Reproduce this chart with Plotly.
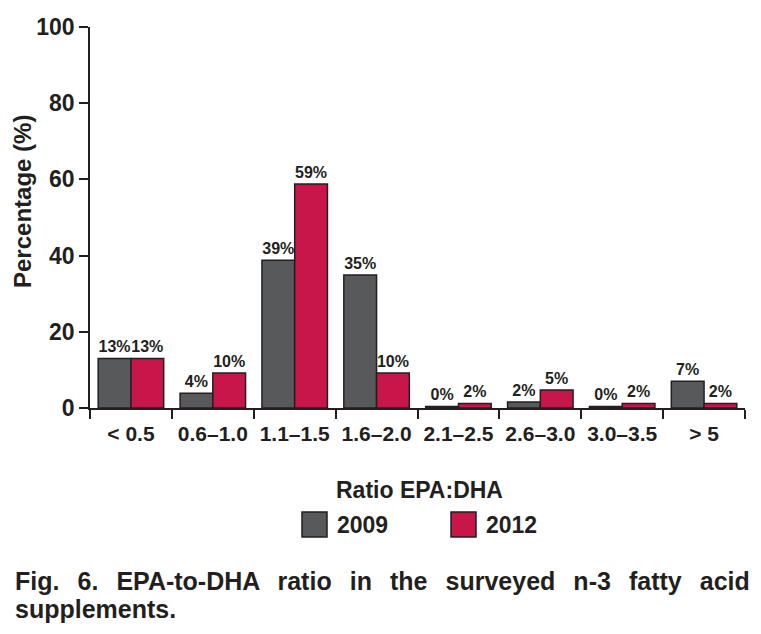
import plotly.graph_objects as go

categories = ["< 0.5", "0.6–1.0", "1.1–1.5", "1.6–2.0", "2.1–2.5", "2.6–3.0", "3.0–3.5", "> 5"]
tick_labels = ["&lt; 0.5", "0.6–1.0", "1.1–1.5", "1.6–2.0", "2.1–2.5", "2.6–3.0", "3.0–3.5", "&gt; 5"]
values_2009 = [13, 3.9, 38.8, 34.9, 0.4, 1.6, 0.4, 7.0]
values_2012 = [13, 9.2, 58.8, 9.2, 1.2, 4.7, 1.2, 1.2]
labels_2009 = ["13%", "4%", "39%", "35%", "0%", "2%", "0%", "7%"]
labels_2012 = ["13%", "10%", "59%", "10%", "2%", "5%", "2%", "2%"]
caption_lines = ["Fig. 6. EPA-to-DHA ratio in the surveyed n-3 fatty acid", "supplements."]

C2009 = "#58595b"
C2012 = "#c8154a"
INK = "#231f20"
FONT = "Liberation Sans, Arial, Helvetica, sans-serif"

# the page body has an 8px margin, so the figure is 8px smaller than the window
W, H = 753, 626
fig = go.Figure()
for name, vals, labs, col in [("2009", values_2009, labels_2009, C2009),
                              ("2012", values_2012, labels_2012, C2012)]:
    fig.add_trace(go.Bar(
        x=categories, y=vals, name=name, text=labs,
        textposition="outside", constraintext="none", cliponaxis=False,
        textfont=dict(family=FONT, size=16, color=INK, weight="bold"),
        marker=dict(color=col, line=dict(color=INK, width=1.5)),
        showlegend=False,
    ))

fig.update_layout(
    width=W, height=H,
    margin=dict(l=82, r=16, t=19, b=226, autoexpand=False),
    paper_bgcolor="white", plot_bgcolor="white",
    barmode="group", bargap=0.2, bargroupgap=0,
    font=dict(family=FONT, color=INK),
)
fig.update_xaxes(
    type="category", tickvals=categories, ticktext=tick_labels, tickangle=0,
    automargin=False, ticklabelstandoff=6,
    tickson="boundaries", ticks="outside", ticklen=9, tickwidth=1.5, tickcolor=INK,
    showline=True, linecolor=INK, linewidth=1.5, showgrid=False,
    tickfont=dict(family=FONT, size=21, color=INK, weight="bold"),
)
fig.update_yaxes(
    range=[0, 100], tickvals=[0, 20, 40, 60, 80, 100], automargin=False,
    ticks="outside", ticklen=9, tickwidth=1.5, tickcolor=INK,
    showline=True, linecolor=INK, linewidth=1.5, showgrid=False, zeroline=False,
    tickfont=dict(family=FONT, size=23, color=INK, weight="bold"),
)

# convert window pixel positions to paper coordinates (plot area: x 90..745, y 27..408)
def px_x(p):
    return (p - 90) / 655.0

def px_y(p):
    return (408 - p) / 381.0

anns = [
    dict(text="<b>Percentage (%)</b>", x=px_x(22), y=px_y(202), textangle=-90,
         font=dict(size=24, family=FONT, color=INK), xanchor="center", yanchor="middle"),
    dict(text="<b>Ratio EPA:DHA</b>", x=px_x(419), y=px_y(490),
         font=dict(size=23, family=FONT, color=INK), xanchor="center", yanchor="middle"),
    dict(text="<b>2009</b>", x=px_x(335), y=px_y(525),
         font=dict(size=23, family=FONT, color=INK), xanchor="left", yanchor="middle"),
    dict(text="<b>2012</b>", x=px_x(484), y=px_y(525),
         font=dict(size=23, family=FONT, color=INK), xanchor="left", yanchor="middle"),
    dict(text="<b>" + caption_lines[0].replace(" ", "  \u2006") + "</b>", x=px_x(13), y=px_y(581),
         font=dict(size=25, family=FONT, color=INK), xanchor="left", yanchor="middle"),
    dict(text="<b>" + caption_lines[1] + "</b>", x=px_x(13), y=px_y(609),
         font=dict(size=25, family=FONT, color=INK), xanchor="left", yanchor="middle"),
]
for a in anns:
    a.update(xref="paper", yref="paper", showarrow=False)
fig.update_layout(annotations=anns)

for x0, col in [(302, C2009), (451, C2012)]:
    fig.add_shape(type="rect", xref="paper", yref="paper",
                  x0=px_x(x0), x1=px_x(x0 + 25), y0=px_y(512), y1=px_y(537),
                  fillcolor=col, line=dict(color=INK, width=1.5))

fig.write_html("out.html")
